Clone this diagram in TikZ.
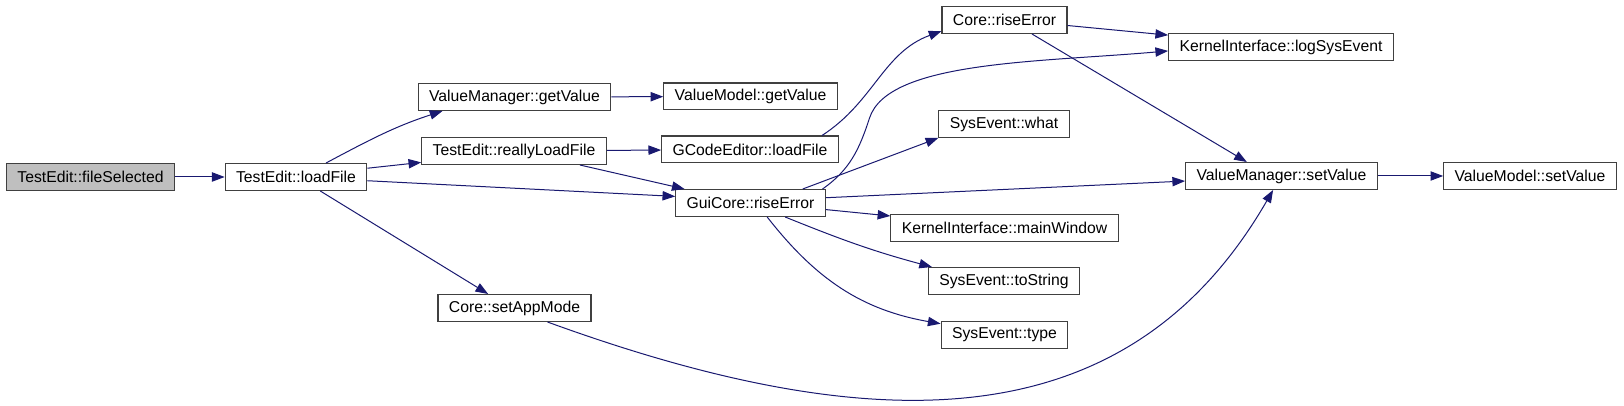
\documentclass[tikz,border=0pt]{standalone}
\usepackage{fontspec}
\setmainfont{Liberation Sans}
\usepackage{tikz}
\usetikzlibrary{arrows.meta}
\definecolor{graphEdge}{RGB}{25,25,112}
\definecolor{graphFrame}{RGB}{64,64,64}
\definecolor{graphGrey}{RGB}{191,191,191}

\begin{document}
\begin{tikzpicture}[
    x=0.75pt, y=0.75pt,
    fn/.style={rectangle, draw=graphFrame, fill=white, line width=0.8pt,
               minimum height=20.2pt, inner xsep=8.2pt, inner ysep=0pt,
               font=\fontsize{11.8}{14}\selectfont},
    call/.style={draw=graphEdge, line width=0.75pt,
                 -{Triangle[length=9.5pt,width=7pt]}}
  ]
  \useasboundingbox (0,0) rectangle (1624,406);

  \node[fn, fill=graphGrey] (fsel)    at (  90.5, 229)   {TestEdit::fileSelected};
  \node[fn]                 (lfile)   at ( 296,   229)   {TestEdit::loadFile};
  \node[fn]                 (vmget)   at ( 514.5, 309)   {ValueManager::getValue};
  \node[fn]                 (rlf)     at ( 514,   255)   {TestEdit::reallyLoadFile};
  \node[fn]                 (appmode) at ( 514.5,  98)   {Core::setAppMode};
  \node[fn]                 (vmodget) at ( 750.5, 309.5) {ValueModel::getValue};
  \node[fn]                 (gce)     at ( 750,   256.5) {GCodeEditor::loadFile};
  \node[fn]                 (gui)     at ( 750.5, 203)   {GuiCore::riseError};
  \node[fn]                 (crise)   at (1004.5, 386)   {Core::riseError};
  \node[fn]                 (what)    at (1004,   282)   {SysEvent::what};
  \node[fn]                 (mainwin) at (1004.5, 178)   {KernelInterface::mainWindow};
  \node[fn]                 (tostr)   at (1004,   125)   {SysEvent::toString};
  \node[fn]                 (stype)   at (1004.5,  71)   {SysEvent::type};
  \node[fn]                 (logev)   at (1281,   359)   {KernelInterface::logSysEvent};
  \node[fn]                 (vmset)   at (1281.5, 230)   {ValueManager::setValue};
  \node[fn]                 (vmodset) at (1530,   230)   {ValueModel::setValue};

  \draw[call] (fsel) -- (lfile);
  \draw[call] (lfile.25) to[out=28,in=198] (vmget.191);
  \draw[call] (lfile.7) -- (rlf.187);
  \draw[call] (lfile.-3) -- (gui.175);
  \draw[call] (lfile.-30) -- (appmode.152);
  \draw[call] (vmget) -- (vmodget);
  \draw[call] (rlf) -- (gce);
  \draw[call] (rlf.-12) -- (gui.168);
  \draw[call] (gce.11) to[out=33,in=200] (crise.190);
  \draw[call] (gui.11) to[out=35,in=252] ++(47,71)
              .. controls +(72:60) and +(185:130) .. (logev.182);
  \draw[call] (gui.15) -- (what.192);
  \draw[call] (gui.4) -- (vmset.183);
  \draw[call] (gui.-5) -- (mainwin.174);
  \draw[call] (gui.-22) to[out=-22,in=165] (tostr.169);
  \draw[call] (gui.-40) to[out=-52,in=170] (stype.170);
  \draw[call] (crise.-5) -- (logev.174);
  \draw[call] (crise.-27) -- (vmset.158);
  \draw[call] (vmset) -- (vmodset);
  \draw[call] (appmode.-23) .. controls +(-20:350) and +(240:290) .. (vmset.239);
\end{tikzpicture}
\end{document}
